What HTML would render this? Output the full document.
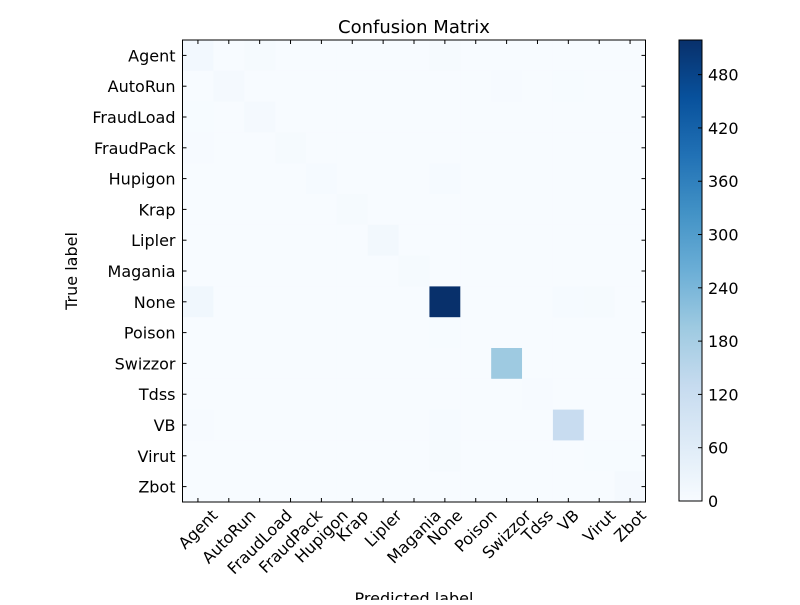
<!DOCTYPE html>
<html><head><meta charset="utf-8"><style>
body{margin:0;background:#fff}
svg text{font-family:"DejaVu Sans","Liberation Sans",sans-serif;fill:#000}
</style></head><body>
<svg id="chart" width="800" height="600" viewBox="0 0 800 600">
<rect width="800" height="600" fill="#fff"/>
<text x="414" y="33" font-size="18" text-anchor="middle">Confusion Matrix</text>
<g id="cells"></g>
<rect x="182.5" y="40" width="463" height="462" fill="none" stroke="#000" stroke-width="1"/>
<g id="ticks"></g>
<text x="414" y="604" font-size="16" text-anchor="middle">Predicted label</text>
<text transform="translate(77,271) rotate(-90)" font-size="16" text-anchor="middle">True label</text>
<defs><linearGradient id="cbg" x1="0" y1="1" x2="0" y2="0">
<stop offset="0" stop-color="#f7fbff"/><stop offset="0.125" stop-color="#deebf7"/><stop offset="0.25" stop-color="#c6dbef"/><stop offset="0.375" stop-color="#9ecae1"/><stop offset="0.5" stop-color="#6baed6"/><stop offset="0.625" stop-color="#4292c6"/><stop offset="0.75" stop-color="#2171b5"/><stop offset="0.875" stop-color="#08519c"/><stop offset="1" stop-color="#08306b"/>
</linearGradient></defs>
<rect x="679" y="40" width="23" height="461" fill="url(#cbg)" stroke="#000" stroke-width="1"/>
<g id="cbticks"></g>
</svg>
<script>
const labels=["Agent","AutoRun","FraudLoad","FraudPack","Hupigon","Krap","Lipler","Magania","None","Poison","Swizzor","Tdss","VB","Virut","Zbot"];
const matrix=[
[12,0,6,0,0,0,0,0,5,0,0,0,0,0,0],
[1,8,0,0,0,0,0,0,0,0,3,0,2,0,0],
[2,0,7,0,0,0,0,0,0,0,0,0,0,0,0],
[3,0,0,5,0,0,0,0,0,0,0,0,0,0,0],
[0,0,0,0,4,0,0,0,4,0,0,0,0,0,0],
[0,0,0,0,0,5,0,0,0,0,0,0,0,0,0],
[0,0,0,0,0,0,14,0,0,0,0,0,0,0,0],
[0,0,0,0,0,0,0,5,0,0,0,0,0,0,0],
[18,0,0,0,0,0,0,0,519,0,0,0,4,6,0],
[0,0,0,0,0,0,0,0,2,0,0,0,0,0,0],
[0,0,0,0,0,0,0,0,0,0,195,0,0,0,0],
[0,0,0,0,0,0,0,0,0,0,0,3,0,0,0],
[3,0,0,0,0,0,0,0,4,0,0,0,125,0,0],
[0,0,0,0,0,0,0,0,5,0,0,0,0,2,2],
[0,0,0,0,0,0,0,0,0,0,0,0,0,0,8]];
const cbTicks=[0,60,120,180,240,300,360,420,480];
const vmin=0, vmax=519;
const NS="http://www.w3.org/2000/svg";
const X0=182.5,Y0=40,W=463,H=462,n=labels.length,cw=W/n,ch=H/n;
const stops=["#f7fbff","#deebf7","#c6dbef","#9ecae1","#6baed6","#4292c6","#2171b5","#08519c","#08306b"].map(h=>[1,3,5].map(i=>parseInt(h.substr(i,2),16)));
function color(v){let t=Math.max(0,Math.min(1,(v-vmin)/(vmax-vmin)))*8;let i=Math.min(7,Math.floor(t)),f=t-i;
const c=stops[i].map((a,k)=>Math.round(a+(stops[i+1][k]-a)*f));return `rgb(${c})`;}
function xs(j){return X0+j*cw;} function ys(i){return Y0+i*ch;}
function cbY(v){return 501-(v-vmin)/(vmax-vmin)*461;}
const cells=document.getElementById('cells');
matrix.forEach((row,i)=>row.forEach((v,j)=>{
const r=document.createElementNS(NS,'rect');
r.setAttribute('x',xs(j));r.setAttribute('y',ys(i));r.setAttribute('width',cw+0.5);r.setAttribute('height',ch+0.5);
r.setAttribute('fill',color(v));


cells.appendChild(r);}));
const tk=document.getElementById('ticks');
function line(x1,y1,x2,y2,g){const l=document.createElementNS(NS,'line');l.setAttribute('x1',x1);l.setAttribute('y1',y1);l.setAttribute('x2',x2);l.setAttribute('y2',y2);l.setAttribute('stroke','#000');g.appendChild(l);return l;}
labels.forEach((lab,k)=>{
const cx=xs(k)+cw/2, cy=ys(k)+ch/2;
line(cx,Y0,cx,Y0+4,tk);line(cx,Y0+H,cx,Y0+H-4,tk);
line(X0,cy,X0+4,cy,tk);line(X0+W,cy,X0+W-4,cy,tk);
const t=document.createElementNS(NS,'text');
t.setAttribute('x',X0-7);t.setAttribute('y',cy+6);t.setAttribute('font-size','16');t.setAttribute('text-anchor','end');
t.textContent=lab;


tk.appendChild(t);
const u=document.createElementNS(NS,'text');
u.setAttribute('font-size','16');u.setAttribute('text-anchor','middle');u.setAttribute('dominant-baseline','central');
u.textContent=lab;


tk.appendChild(u);
const w=u.getComputedTextLength(),h=13;
const half=(w+h)*0.7071/2;
u.setAttribute('transform',`translate(${cx},${Y0+H+6+half}) rotate(-45)`);
});
const cb=document.getElementById('cbticks');
cbTicks.forEach(v=>{
const y=cbY(v);line(698,y,702,y,cb);
const t=document.createElementNS(NS,'text');
t.setAttribute('x',708);t.setAttribute('y',y+6);t.setAttribute('font-size','16');
t.textContent=v;


cb.appendChild(t);});
</script>
</body></html>
